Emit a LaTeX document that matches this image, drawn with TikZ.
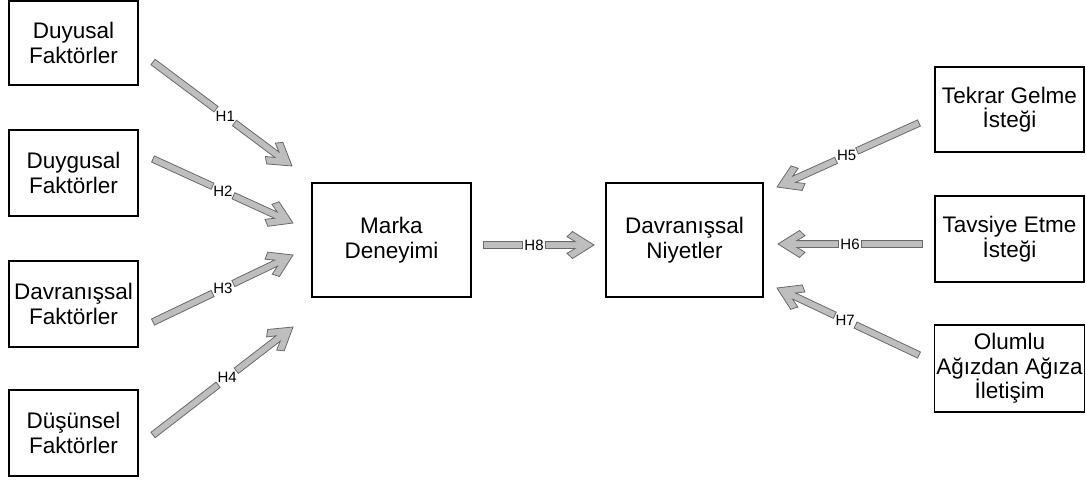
\documentclass[tikz,border=0pt]{standalone}
\usepackage{fontspec}
\setmainfont{Liberation Sans}
\definecolor{arfill}{RGB}{190,190,190}
\definecolor{arline}{RGB}{105,105,105}
\tikzset{
  box/.style={draw=black, line width=1.1pt, align=center, inner sep=2pt,
    font=\fontsize{22.5}{24.5}\selectfont},
  arrowpart/.style={draw=arline, fill=arfill, line width=0.8pt, line join=miter},
  hlabel/.style={font=\fontsize{15}{15}\selectfont, inner sep=0pt}
}
\newcommand\blockarrow[5]{%
  \pgfpointdiff{\pgfpointanchor{#1}{center}}{\pgfpointanchor{#2}{center}}%
  \pgfgetlastxy{\bdx}{\bdy}%
  \pgfmathsetmacro\barang{atan2(\bdy,\bdx)}%
  \pgfmathsetmacro\barlen{veclen(\bdx,\bdy)}%
  \pgfmathsetmacro\barc{#3*\barlen}%
  \pgfmathsetmacro\barca{\barc-11.5}%
  \pgfmathsetmacro\barcb{\barc+11.5}%
  \pgfmathsetmacro\barh{\barlen-18.8}%
  \pgfmathsetmacro\barho{\barlen-21.5}%
  \pgfmathsetmacro\barhb{\barlen-27}%
  \begin{scope}[shift={(#1)}, rotate=\barang]
    \draw[arrowpart] (0pt,-3.4pt) -- (\barca pt,-3.4pt) -- (\barca pt,3.4pt) -- (0pt,3.4pt) -- cycle;
    \draw[arrowpart] (\barcb pt,-3.4pt) -- (\barh pt,-3.4pt) -- (\barhb pt,-8.3pt) -- (\barho pt,-13.5pt)
      -- (\barlen pt,0pt) -- (\barho pt,13.5pt) -- (\barhb pt,8.3pt) -- (\barh pt,3.4pt) -- (\barcb pt,3.4pt) -- cycle;
    \node[hlabel] (#4) at (\barc pt,0pt) {#5};
  \end{scope}
}
\begin{document}
\begin{tikzpicture}[x=1pt,y=-1pt]
\useasboundingbox (0,0) rectangle (1086,480);
% boxes
\node[box, minimum width=129pt, minimum height=84pt] (b1) at (73.5,43) {Duyusal\\Faktörler};
\node[box, minimum width=129pt, minimum height=86pt] (b2) at (73.5,173) {Duygusal\\Faktörler};
\node[box, minimum width=129pt, minimum height=86pt] (b3) at (73.5,304) {Davranışsal\\Faktörler};
\node[box, minimum width=129pt, minimum height=86pt] (b4) at (73.5,433) {Düşünsel\\Faktörler};
\node[box, minimum width=159pt, minimum height=114pt] (m) at (391.5,240) {Marka\\Deneyimi};
\node[box, minimum width=157pt, minimum height=114pt] (n) at (684.5,240) {Davranışsal\\Niyetler};
\node[box, minimum width=149pt, minimum height=85pt] (t) at (1009.5,109.5) {Tekrar Gelme\\İsteği};
\node[box, minimum width=149pt, minimum height=86pt] (v) at (1009.5,239) {Tavsiye Etme\\İsteği};
\node[box, minimum width=149pt, minimum height=87pt] (o) at (1009.5,368.5) {Olumlu\\Ağızdan Ağıza\\İletişim};
% arrow end points
\coordinate (s1) at (153,62);  \coordinate (e1) at (292,166);
\coordinate (s2) at (153,159); \coordinate (e2) at (293,223);
\coordinate (s3) at (153,322); \coordinate (e3) at (293,255);
\coordinate (s4) at (153,435); \coordinate (e4) at (293,327);
\coordinate (s8) at (483,245); \coordinate (e8) at (594,245);
\coordinate (s5) at (919,123); \coordinate (e5) at (777,187);
\coordinate (s6) at (922,244); \coordinate (e6) at (778,244);
\coordinate (s7) at (919,355); \coordinate (e7) at (777,288);
% arrows
\blockarrow{s1}{e1}{0.52}{h1}{H1}
\blockarrow{s2}{e2}{0.50}{h2}{H2}
\blockarrow{s3}{e3}{0.50}{h3}{H3}
\blockarrow{s4}{e4}{0.53}{h4}{H4}
\blockarrow{s8}{e8}{0.46}{h8}{H8}
\blockarrow{s5}{e5}{0.51}{h5}{H5}
\blockarrow{s6}{e6}{0.50}{h6}{H6}
\blockarrow{s7}{e7}{0.52}{h7}{H7}
\end{tikzpicture}
\end{document}
